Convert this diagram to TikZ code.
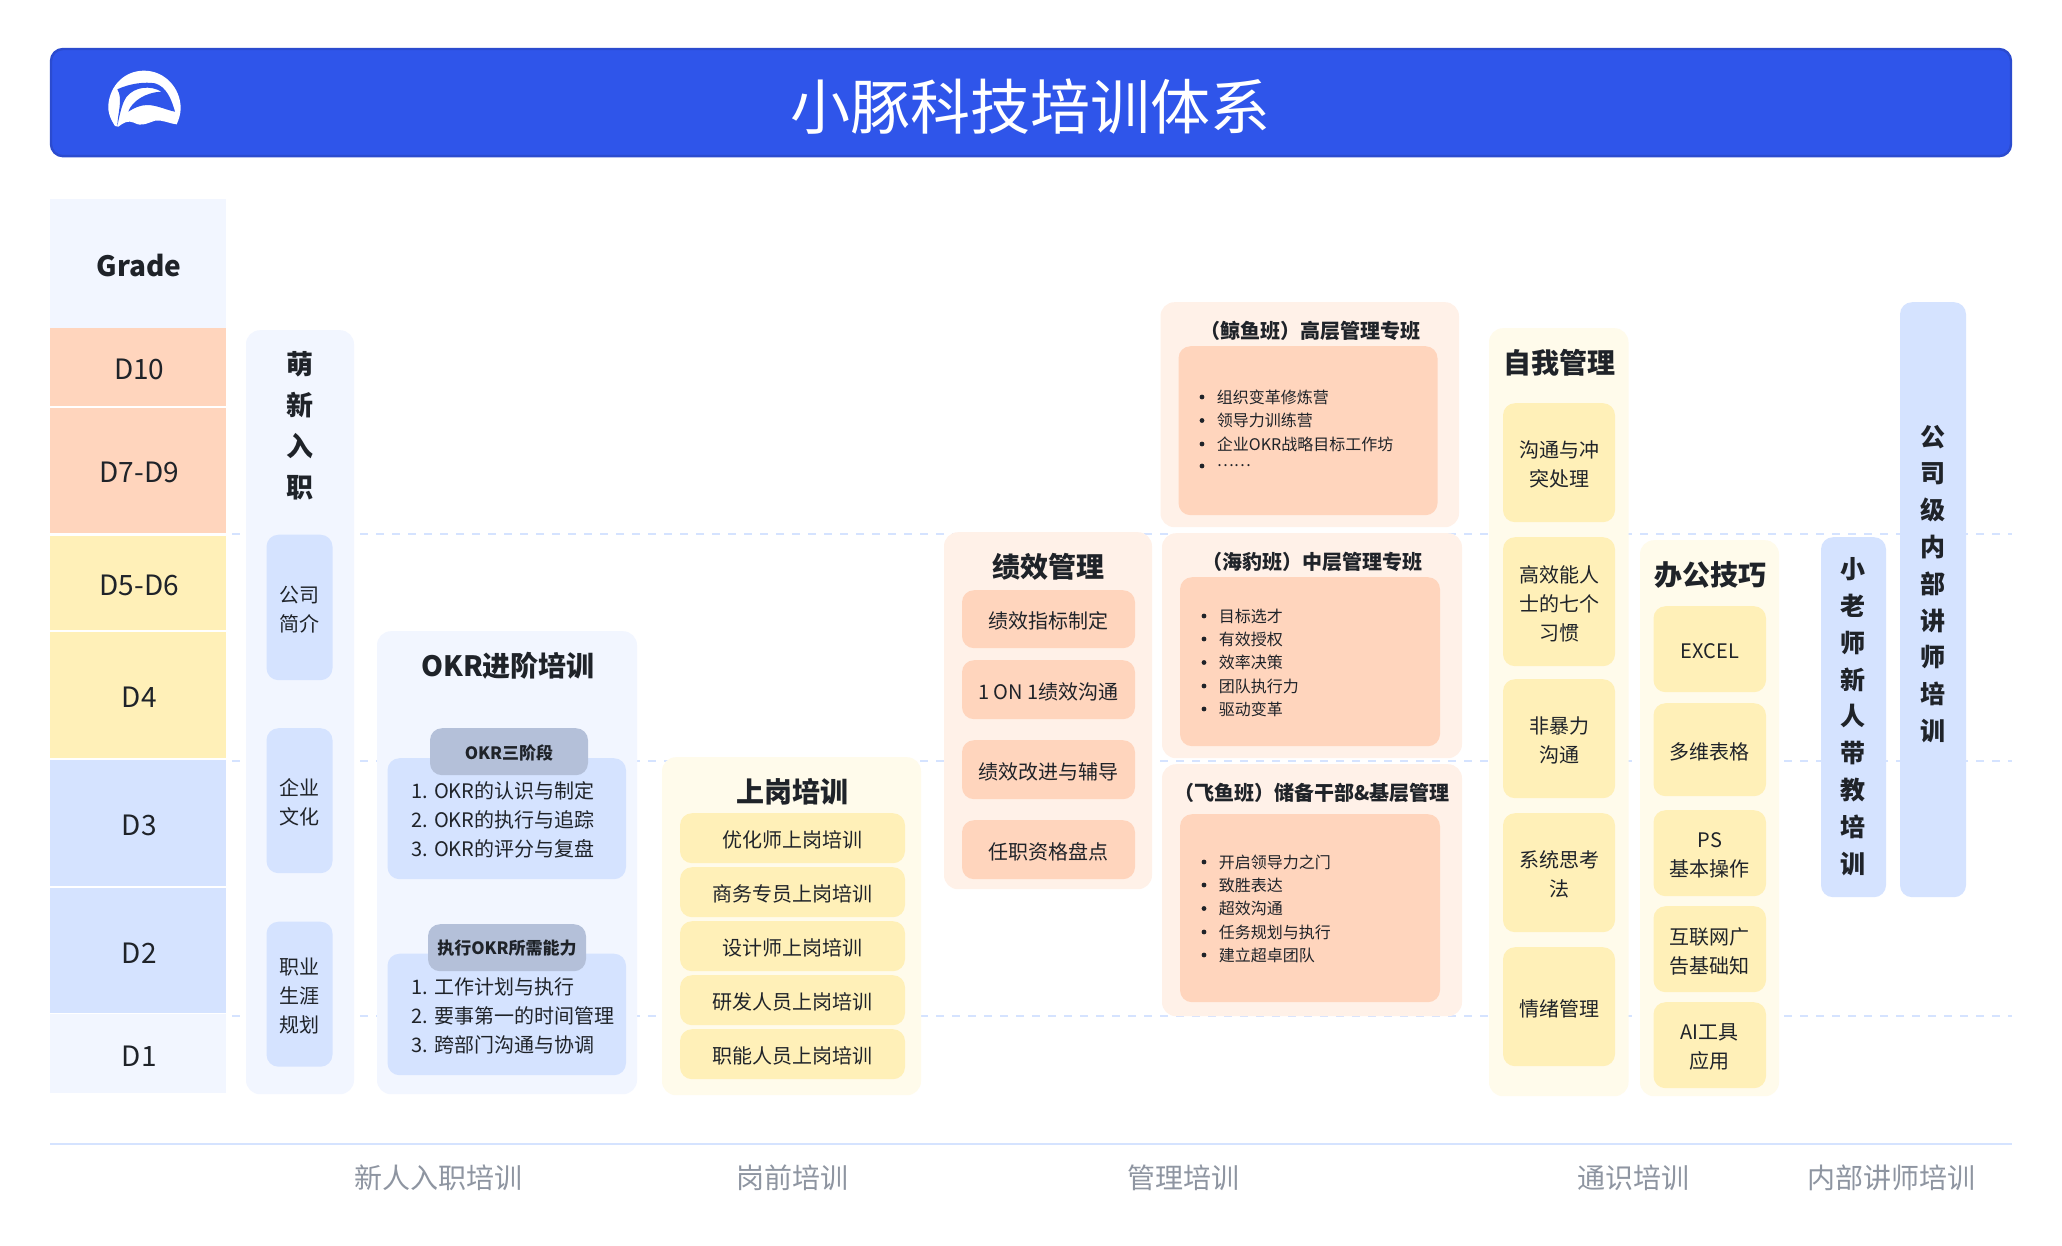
\documentclass[tikz,border=0pt]{standalone}
\usepackage{fontspec}
\setmainfont{Noto Sans CJK SC}
\usetikzlibrary{calc}
\definecolor{ink}{HTML}{1F2329}
\definecolor{bannerblue}{HTML}{2F55EA}
\definecolor{bannerline}{HTML}{2B4BCF}
\definecolor{paleblue}{HTML}{F2F6FF}
\definecolor{midblue}{HTML}{D5E3FF}
\definecolor{slate}{HTML}{B4C0D9}
\definecolor{paleyellow}{HTML}{FFFBEB}
\definecolor{midyellow}{HTML}{FFF0B8}
\definecolor{paleorange}{HTML}{FFF1E8}
\definecolor{midorange}{HTML}{FFD5BD}
\definecolor{graytext}{HTML}{8E95A1}
\newcommand{\cardbox}[7]{%
  \pgfmathsetmacro{\myx}{(#3+#5)/2}\pgfmathsetmacro{\myy}{(#4+#6)/2}%
  \pgfmathsetmacro{\myw}{(#5-#3)*0.5}\pgfmathsetmacro{\myh}{(#6-#4)*0.5}%
  \node[#2,minimum width=\myw pt,minimum height=\myh pt] (#1) at (\myx,\myy-0.8) {};
  \if\relax\detokenize{#7}\relax\else
  \node[#2,fill=none,rounded corners=0pt] (#1text) at (\myx,\myy+1.3) {#7};
  \fi}
\newcommand{\cellbox}[5]{%
  \cardbox{#1}{cell,fill=#2}{50}{#3}{226}{#4}{}
  \pgfmathsetmacro{\myy}{(#3+#4)/2+1.3}%
  \node[cell] (#1text) at (139.3,\myy) {#5};}
\newcommand{\slatebox}[6]{%
  \cardbox{#1}{cslate}{#2}{#3}{#4}{#5}{}
  \pgfmathsetmacro{\myx}{(#2+#4)/2}\pgfmathsetmacro{\myy}{(#3+#5)/2}%
  \node[cslatetext] (#1text) at (\myx,\myy) {#6};}
\newcommand{\litem}[4]{%
  \node[dotmark] (#1d) at (#2,#3) {};
  \node[listline] (#1t) at ($(#2,#3)+(14.5,0)$) {#4};}
\tikzset{
  box/.style={rectangle,inner sep=0pt,text=ink,align=center,font=\fontsize{10}{14.5}\selectfont},
  cell/.style={box,font=\fontsize{14}{18}\selectfont},
  panel/.style={box,rounded corners=7pt},
  card/.style={box,rounded corners=6pt},
  pblue/.style={panel,fill=paleblue},
  pyellow/.style={panel,fill=paleyellow},
  porange/.style={panel,fill=paleorange},
  cblue/.style={card,fill=midblue},
  cyellow/.style={card,fill=midyellow},
  corange/.style={card,fill=midorange},
  cslate/.style={card,fill=slate},
  cslatetext/.style={inner sep=0pt,text=ink,font=\fontsize{8.5}{11}\selectfont\bfseries},
  head/.style={inner sep=0pt,text=ink,align=center,font=\fontsize{14}{18}\selectfont\bfseries},
  subhead/.style={inner sep=0pt,text=ink,font=\fontsize{10}{13}\selectfont\bfseries},
  listblock/.style={inner sep=0pt,text=ink,align=left,anchor=west,font=\fontsize{10}{14.5}\selectfont},
  listline/.style={inner sep=0pt,text=ink,anchor=west,font=\fontsize{8}{10}\selectfont},
  dotmark/.style={circle,fill=ink,inner sep=0pt,minimum size=2.4pt},
  levelline/.style={midblue,line width=1pt,dash pattern=on 4pt off 4pt},
  footline/.style={midblue,line width=1pt},
  foot/.style={inner sep=0pt,text=graytext,font=\fontsize{14}{18}\selectfont},
}
\begin{document}
\begin{tikzpicture}[x=0.5pt,y=-0.5pt]
\useasboundingbox (0,0) rectangle (2062,1246);
\fill[white] (0,0) rectangle (2062,1246);
% level guides
\foreach \n/\yy in {a/534.4,b/761.4,c/1016.4}{
  \coordinate (l\n) at (232,\yy); \coordinate (r\n) at (2012,\yy);
  \draw[levelline] (l\n) -- (r\n);
}
% banner
\node[rectangle,rounded corners=6pt,fill=bannerblue,draw=bannerline,line width=1.2pt,minimum width=980pt,minimum height=53.6pt,inner sep=0pt] (banner) at (1031,102.6) {};
\node[inner sep=0pt,text=white,font=\fontsize{30}{36}\selectfont] (title) at (1030.6,107) {小豚科技培训体系};
\begin{scope}[shift={(60,40)},x=0.16667pt,y=-0.16667pt]
\fill[white] (165,258) .. controls (150,235) and (143,215) .. (145,195) .. controls (150,135) and (195,92) .. (252,92) .. controls (315,92) and (362,145) .. (362,205) .. controls (362,220) and (357,238) .. (350,253) .. controls (325,250) and (305,238) .. (285,242) .. controls (265,248) and (245,262) .. (222,248) .. controls (205,240) and (190,248) .. (175,260) -- cycle;
\fill[bannerblue] (172,148) .. controls (210,130) and (255,125) .. (285,130) .. controls (320,140) and (335,180) .. (345,215) .. controls (325,212) and (290,195) .. (262,195) .. controls (240,195) and (220,205) .. (205,215) .. controls (215,185) and (255,157) .. (305,155) .. controls (270,135) and (225,140) .. (200,170) .. controls (185,190) and (178,230) .. (172,258) .. controls (172,225) and (190,175) .. (172,148) -- cycle;
\end{scope}
% grade column
\cellbox{gGrade}{paleblue}{200}{329}{\bfseries Grade}
\cellbox{gD10}{midorange}{329}{407}{D10}
\cellbox{gD79}{midorange}{409}{534}{D7-D9}
\cellbox{gD56}{midyellow}{537}{631}{D5-D6}
\cellbox{gD4}{midyellow}{633}{759}{D4}
\cellbox{gD3}{midblue}{761}{887}{D3}
\cellbox{gD2}{midblue}{889}{1014}{D2}
\cellbox{gD1}{paleblue}{1015}{1094}{D1}
% onboarding
\cardbox{pNew}{pblue}{246}{331}{354}{1095}{}
\node[head,font=\fontsize{13.5}{20.5}\selectfont\bfseries] (tNew) at (300,426) {萌\\新\\入\\职};
\cardbox{cNew1}{cblue}{266.5}{535.5}{332.5}{681}{公司\\简介}
\cardbox{cNew2}{cblue}{266.5}{729}{332.5}{874}{企业\\文化}
\cardbox{cNew3}{cblue}{266.5}{922.5}{332.5}{1067.5}{职业\\生涯\\规划}
% OKR
\cardbox{pOkr}{pblue}{377}{632}{637}{1095}{}
\node[head] (tOkr) at (508,666) {OKR进阶培训};
\cardbox{cOkr1}{cblue}{387.5}{759}{626}{880}{}
\slatebox{sOkr1}{430}{729}{588}{776}{OKR三阶段}
\node[listblock] (lOkr1) at (411,820) {1. OKR的认识与制定\\2. OKR的执行与追踪\\3. OKR的评分与复盘};
\cardbox{cOkr2}{cblue}{387.5}{954.5}{626}{1076}{}
\slatebox{sOkr2}{428}{925}{586}{972}{执行OKR所需能力}
\node[listblock] (lOkr2) at (411,1016) {1. 工作计划与执行\\2. 要事第一的时间管理\\3. 跨部门沟通与协调};
% on-post
\cardbox{pPost}{pyellow}{662}{758}{921}{1096}{}
\node[head] (tPost) at (792,792) {上岗培训};
\cardbox{cPost1}{cyellow}{680}{814}{905}{864}{优化师上岗培训}
\cardbox{cPost2}{cyellow}{680}{868}{905}{918}{商务专员上岗培训}
\cardbox{cPost3}{cyellow}{680}{922}{905}{972}{设计师上岗培训}
\cardbox{cPost4}{cyellow}{680}{976}{905}{1026}{研发人员上岗培训}
\cardbox{cPost5}{cyellow}{680}{1030}{905}{1080}{职能人员上岗培训}
% performance
\cardbox{pPerf}{porange}{944}{533}{1152}{890}{}
\node[head] (tPerf) at (1048,567) {绩效管理};
\cardbox{cPerf1}{corange}{962}{591}{1135}{649}{绩效指标制定}
\cardbox{cPerf2}{corange}{962}{661}{1135}{720}{1 ON 1绩效沟通}
\cardbox{cPerf3}{corange}{962}{741}{1135}{800}{绩效改进与辅导}
\cardbox{cPerf4}{corange}{962}{821}{1135}{880}{任职资格盘点}
% whale
\cardbox{pWhale}{porange}{1160.5}{303}{1459}{528}{}
\node[subhead] (tWhale) at (1310,331) {（鲸鱼班）高层管理专班};
\cardbox{cWhale}{corange}{1178.5}{347}{1437.5}{516}{}
\litem{w1}{1202}{397}{组织变革修炼营}
\litem{w2}{1202}{420.5}{领导力训练营}
\litem{w3}{1202}{444}{企业OKR战略目标工作坊}
\litem{w4}{1202}{466}{……}
% seal
\cardbox{pSeal}{porange}{1162}{534}{1462}{759}{}
\node[subhead] (tSeal) at (1312,561.5) {（海豹班）中层管理专班};
\cardbox{cSeal}{corange}{1180}{578}{1440}{747}{}
\litem{s1}{1204}{616}{目标选才}
\litem{s2}{1204}{639}{有效授权}
\litem{s3}{1204}{662.5}{效率决策}
\litem{s4}{1204}{686}{团队执行力}
\litem{s5}{1204}{709}{驱动变革}
% flying fish
\cardbox{pFish}{porange}{1162}{765}{1462}{1017}{}
\node[subhead] (tFish) at (1312,792.5) {（飞鱼班）储备干部\&基层管理};
\cardbox{cFish}{corange}{1180}{815}{1440}{1003}{}
\litem{f1}{1204}{862}{开启领导力之门}
\litem{f2}{1204}{885}{致胜表达}
\litem{f3}{1204}{908.5}{超效沟通}
\litem{f4}{1204}{932}{任务规划与执行}
\litem{f5}{1204}{955}{建立超卓团队}
% self management
\cardbox{pSelf}{pyellow}{1489}{329}{1628.5}{1097}{}
\node[head] (tSelf) at (1559,363) {自我管理};
\cardbox{cSelf1}{cyellow}{1503}{404}{1615}{523}{沟通与冲\\突处理}
\cardbox{cSelf2}{cyellow}{1503}{538}{1615}{667}{高效能人\\士的七个\\习惯}
\cardbox{cSelf3}{cyellow}{1503}{680}{1615}{799}{非暴力\\沟通}
\cardbox{cSelf4}{cyellow}{1503}{814}{1615}{933}{系统思考\\法}
\cardbox{cSelf5}{cyellow}{1503}{948}{1615}{1067}{情绪管理}
% office skills
\cardbox{pOff}{pyellow}{1640}{541}{1779}{1097}{}
\node[head] (tOff) at (1710,575) {办公技巧};
\cardbox{cOff1}{cyellow}{1653.5}{607}{1766}{693}{EXCEL}
\cardbox{cOff2}{cyellow}{1653.5}{704}{1766}{797}{多维表格}
\cardbox{cOff3}{cyellow}{1653.5}{811}{1766}{897}{PS\\基本操作}
\cardbox{cOff4}{cyellow}{1653.5}{907}{1766}{993}{互联网广\\告基础知}
\cardbox{cOff5}{cyellow}{1653.5}{1003}{1766}{1089}{AI工具\\应用}
% internal trainers
\cardbox{cMent}{cblue}{1821}{538}{1886}{898}{}
\node[head,font=\fontsize{12.5}{18.4}\selectfont\bfseries] (tMent) at (1853,716.5) {小\\老\\师\\新\\人\\带\\教\\培\\训};
\cardbox{cComp}{cblue}{1900}{303}{1966}{898}{}
\node[head,font=\fontsize{12.5}{18.4}\selectfont\bfseries] (tComp) at (1933,584) {公\\司\\级\\内\\部\\讲\\师\\培\\训};
% footer
\coordinate (fl) at (50,1144); \coordinate (fr) at (2012,1144);
\draw[footline] (fl) -- (fr);
\node[foot] (f1) at (438.5,1178) {新人入职培训};
\node[foot] (f2) at (792,1178) {岗前培训};
\node[foot] (f3) at (1183,1178) {管理培训};
\node[foot] (f4) at (1633,1178) {通识培训};
\node[foot] (f5) at (1891,1178) {内部讲师培训};
\end{tikzpicture}
\end{document}
